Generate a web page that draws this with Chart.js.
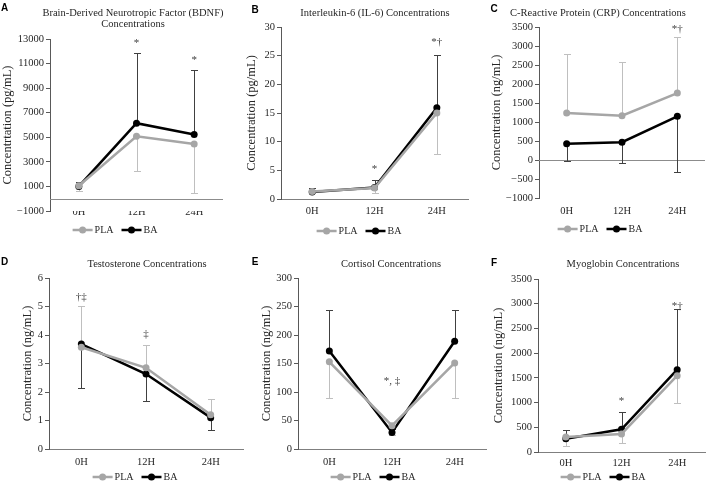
<!DOCTYPE html>
<html>
<head>
<meta charset="utf-8">
<script src="https://cdn.jsdelivr.net/npm/chart.js@4.4.0/dist/chart.umd.min.js"></script>
<style>
  html, body { margin: 0; background: #fff; width: 709px; height: 489px; overflow: hidden; }
  canvas { position: absolute; }
</style>
</head>
<body>
<script>
const times = ['0H', '12H', '24H'];

// A - BDNF (pg/mL)
const bdnfPla = [1050, 5080, 4460];
const bdnfBa = [1000, 6150, 5220];
const bdnfPlaBar = [600, 2290, 430];
const bdnfBaBar = [1400, 11900, 10480];
const bdnfMarks = ['', '*', '*'];
const bdnfMarkAt = [null, 12700, 11300];

// B - IL-6 (pg/mL)
const il6Pla = [1.3, 1.9, 15.0];
const il6Ba = [1.2, 2.0, 15.9];
const il6PlaBar = [1.0, 1.0, 7.8];
const il6BaBar = [1.9, 3.4, 25.2];
const il6Marks = ['', '*', '*†'];
const il6MarkAt = [null, 5.2, 27.3];

// C - CRP (ng/mL)
const crpPla = [1235, 1165, 1760];
const crpBa = [425, 470, 1150];
const crpPlaBar = [2780, 2590, 3250];
const crpBaBar = [-30, -70, -320];
const crpMarks = ['', '', '*†'];
const crpMarkAt = [null, null, 3450];

// D - Testosterone (ng/mL)
const testPla = [3.57, 2.85, 1.2];
const testBa = [3.68, 2.63, 1.1];
const testPlaBar = [5.0, 3.65, 1.75];
const testBaBar = [2.13, 1.7, 0.66];
const testMarks = ['†‡', '‡', ''];
const testMarkAt = [5.33, 4.03, null];

// E - Cortisol (ng/mL)
const cortPla = [153, 41, 151];
const cortBa = [172, 29, 189];
const cortPlaBar = [90, 24, 90];
const cortBaBar = [243, 35, 243];
const cortMarks = ['', '*, ‡', ''];
const cortMarkAt = [null, 119, null];

// F - Myoglobin (ng/mL)
const myoPla = [305, 365, 1543];
const myoBa = [270, 460, 1665];
const myoPlaBar = [122, 190, 1000];
const myoBaBar = [440, 812, 2890];
const myoMarks = ['', '*', '*†'];
const myoMarkAt = [null, 1035, 2945];

const SERIF = "'Liberation Serif', 'Times New Roman', serif";
const PLA_COLOR = '#a6a6a6';
const BA_COLOR = '#000000';

const panels = [
  { letter: 'A', title: ['Brain-Derived Neurotropic Factor (BDNF)', 'Concentrations'], yLabel: 'Concentrtation (pg/mL)',
    pla: bdnfPla, ba: bdnfBa, plaBar: bdnfPlaBar, baBar: bdnfBaBar, marks: bdnfMarks, markAt: bdnfMarkAt,
    yMin: -1000, yMax: 13000, yStep: 2000, zero: true,
    canvas: [0, 0, 236, 245], area: [50, 39, 223, 211], yTitleX: 8, xPad: -5,
    titleX: 133, titleY: [13, 24], legend: [115, 230], letterAt: [4.5, 8.5] },
  { letter: 'B', title: ['Interleukin-6 (IL-6) Concentrations'], yLabel: 'Concentration (pg/mL)',
    pla: il6Pla, ba: il6Ba, plaBar: il6PlaBar, baBar: il6BaBar, marks: il6Marks, markAt: il6MarkAt,
    yMin: 0, yMax: 30, yStep: 5, zero: false,
    canvas: [236, 0, 236, 245], area: [281, 27, 470, 199], yTitleX: 252, xPad: 6,
    titleX: 375, titleY: [13], legend: [359, 231], letterAt: [255, 10] },
  { letter: 'C', title: ['C-Reactive Protein (CRP) Concentrations'], yLabel: 'Concentration (ng/mL)',
    pla: crpPla, ba: crpBa, plaBar: crpPlaBar, baBar: crpBaBar, marks: crpMarks, markAt: crpMarkAt,
    yMin: -1000, yMax: 3500, yStep: 500, zero: true,
    canvas: [472, 0, 237, 245], area: [539, 27, 705, 198], yTitleX: 497, xPad: 7,
    titleX: 598, titleY: [13], legend: [600, 229], letterAt: [494, 9] },
  { letter: 'D', title: ['Testosterone Concentrations'], yLabel: 'Concentration (ng/mL)',
    pla: testPla, ba: testBa, plaBar: testPlaBar, baBar: testBaBar, marks: testMarks, markAt: testMarkAt,
    yMin: 0, yMax: 6, yStep: 1, zero: false,
    canvas: [0, 245, 250, 244], area: [49, 278, 243, 449], yTitleX: 28, xPad: 7,
    titleX: 147, titleY: [264], legend: [135, 477], letterAt: [4.5, 262] },
  { letter: 'E', title: ['Cortisol Concentrations'], yLabel: 'Concentration (ng/mL)',
    pla: cortPla, ba: cortBa, plaBar: cortPlaBar, baBar: cortBaBar, marks: cortMarks, markAt: cortMarkAt,
    yMin: 0, yMax: 300, yStep: 50, zero: false,
    canvas: [236, 245, 254, 244], area: [298, 278, 486, 449], yTitleX: 267, xPad: 7,
    titleX: 391, titleY: [264], legend: [373, 477], letterAt: [255, 262] },
  { letter: 'F', title: ['Myoglobin Concentrations'], yLabel: 'Concentration (ng/mL)',
    pla: myoPla, ba: myoBa, plaBar: myoPlaBar, baBar: myoBaBar, marks: myoMarks, markAt: myoMarkAt,
    yMin: 0, yMax: 3500, yStep: 500, zero: false,
    canvas: [472, 245, 237, 244], area: [538, 279, 709, 452], yTitleX: 499, xPad: 5,
    titleX: 623, titleY: [264], legend: [603, 477], letterAt: [494, 263] }
];

// error bars, zero line, significance marks, titles and legend
function makeDecor(p) {
  const [cx, cy] = p.canvas;
  return {
    id: 'decor' + p.letter,
    beforeDatasetsDraw(chart) {
      const { ctx, chartArea } = chart;
      const xs = chart.scales.x, ys = chart.scales.y;
      ctx.save();
      if (p.zero) {
        const y0 = Math.round(ys.getPixelForValue(0)) + 0.5;
        ctx.strokeStyle = '#8c8c8c';
        ctx.lineWidth = 1;
        ctx.beginPath();
        ctx.moveTo(chartArea.left, y0);
        ctx.lineTo(chartArea.right, y0);
        ctx.stroke();
      }
      const series = [[p.pla, p.plaBar, '#bfbfbf'], [p.ba, p.baBar, '#404040']];
      series.forEach(([vals, bars, color]) => {
        ctx.strokeStyle = color;
        ctx.lineWidth = 1;
        vals.forEach((v, i) => {
          const x = Math.round(xs.getPixelForValue(i)) + 0.5;
          const yA = ys.getPixelForValue(v);
          const yB = Math.round(ys.getPixelForValue(bars[i])) + 0.5;
          ctx.beginPath();
          ctx.moveTo(x, yA);
          ctx.lineTo(x, yB);
          ctx.moveTo(x - 3.5, yB);
          ctx.lineTo(x + 3.5, yB);
          ctx.stroke();
        });
      });
      ctx.restore();
    },
    afterDatasetsDraw(chart) {
      const { ctx } = chart;
      const xs = chart.scales.x, ys = chart.scales.y;
      ctx.save();
      ctx.fillStyle = '#404040';
      ctx.font = '11px ' + SERIF;
      ctx.textAlign = 'center';
      ctx.textBaseline = 'middle';
      p.marks.forEach((m, i) => {
        if (!m) return;
        ctx.fillText(m, xs.getPixelForValue(i), ys.getPixelForValue(p.markAt[i]));
      });
      ctx.restore();
    },
    afterDraw(chart) {
      const { ctx } = chart;
      ctx.save();
      // panel letter
      ctx.fillStyle = '#000';
      ctx.font = 'bold 10px "Liberation Sans", Arial, sans-serif';
      ctx.textAlign = 'center';
      ctx.textBaseline = 'middle';
      ctx.fillText(p.letter, p.letterAt[0] - cx, p.letterAt[1] - cy);
      // title
      ctx.fillStyle = '#262626';
      ctx.font = '10.5px ' + SERIF;
      p.title.forEach((t, k) => ctx.fillText(t, p.titleX - cx, p.titleY[k] - cy));
      // legend
      ctx.font = '10px ' + SERIF;
      ctx.textAlign = 'left';
      const items = [['PLA', PLA_COLOR], ['BA', BA_COLOR]];
      const lineLen = 20, gapText = 2, gapItem = 8;
      const widths = items.map(([t]) => lineLen + gapText + ctx.measureText(t).width);
      const total = widths[0] + gapItem + widths[1];
      let x = p.legend[0] - cx - total / 2;
      const y = p.legend[1] - cy;
      items.forEach(([t, c], k) => {
        ctx.strokeStyle = c;
        ctx.fillStyle = c;
        ctx.lineWidth = 2.5;
        ctx.beginPath();
        ctx.moveTo(x, y);
        ctx.lineTo(x + lineLen, y);
        ctx.stroke();
        ctx.beginPath();
        ctx.arc(x + lineLen / 2, y, 3.5, 0, Math.PI * 2);
        ctx.fill();
        ctx.fillStyle = '#262626';
        ctx.fillText(t, x + lineLen + gapText, y + 0.5);
        x += widths[k] + gapItem;
      });
      ctx.restore();
    }
  };
}

panels.forEach(p => {
  const [cx, cy, cw, ch] = p.canvas;
  const [al, at, ar, ab] = p.area;
  const cv = document.createElement('canvas');
  cv.width = cw;
  cv.height = ch;
  cv.style.left = cx + 'px';
  cv.style.top = cy + 'px';
  cv.style.width = cw + 'px';
  cv.style.height = ch + 'px';
  document.body.appendChild(cv);

  const tickFont = { family: SERIF, size: 10.5 };

  new Chart(cv.getContext('2d'), {
    type: 'line',
    data: {
      labels: times,
      datasets: [
        { label: 'PLA', data: p.pla, borderColor: PLA_COLOR, backgroundColor: PLA_COLOR,
          borderWidth: 2.5, pointRadius: 3.5, pointBorderWidth: 0, tension: 0 },
        { label: 'BA', data: p.ba, borderColor: BA_COLOR, backgroundColor: BA_COLOR,
          borderWidth: 2.5, pointRadius: 3.5, pointBorderWidth: 0, tension: 0 }
      ]
    },
    options: {
      responsive: false,
      animation: false,
      devicePixelRatio: 1,
      layout: { padding: { left: 0, top: at - cy, right: cx + cw - ar, bottom: 0 } },
      plugins: { legend: { display: false }, title: { display: false }, tooltip: { enabled: false } },
      scales: {
        x: {
          offset: true,
          grid: { display: false, drawTicks: false },
          border: { display: !p.zero, color: '#7f7f7f', width: 1 },
          ticks: { padding: p.xPad, color: '#262626', font: tickFont, maxRotation: 0 },
          afterFit(s) { s.height = cy + ch - ab; }
        },
        y: {
          min: p.yMin,
          max: p.yMax,
          ticks: {
            stepSize: p.yStep,
            padding: 2,
            color: '#262626',
            font: tickFont,
            callback: v => String(v).replace('-', '\u2212')
          },
          grid: { color: 'rgba(0,0,0,0)', tickColor: '#595959', tickLength: 4, drawTicks: true },
          border: { display: true, color: '#595959', width: 1 },
          title: {
            display: true,
            text: p.yLabel,
            color: '#262626',
            font: { family: SERIF, size: 12.5 },
            padding: { top: p.yTitleX - cx - 7.5, bottom: 0 }
          },
          afterFit(s) { s.width = al - cx; }
        }
      }
    },
    plugins: [makeDecor(p)]
  });
});
</script>
</body>
</html>
